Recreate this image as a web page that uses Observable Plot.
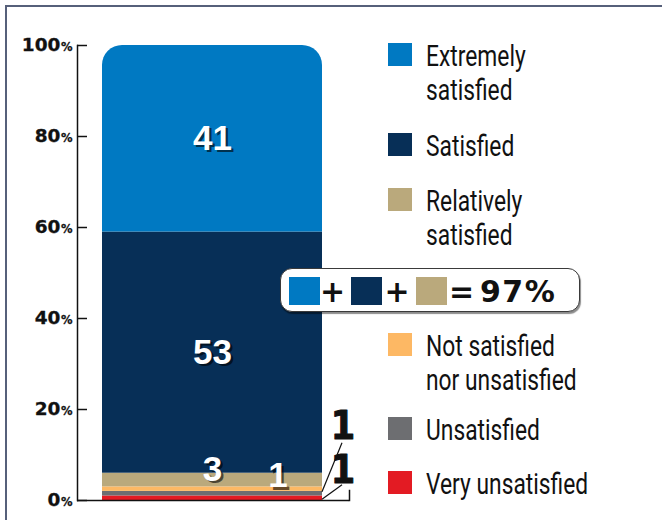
<!DOCTYPE html>
<html>
<head>
<meta charset="utf-8">
<script src="https://cdn.jsdelivr.net/npm/d3@7"></script>
<script src="https://cdn.jsdelivr.net/npm/@observablehq/plot@0.6"></script>
<style>
  body { margin: 0; background: #fff; }
  #wrap { position: relative; width: 662px; height: 520px; overflow: hidden; background: #fff; }
  #chart { position: absolute; left: 0; top: 0; }
  #border { position: absolute; left: 5px; top: 5px; right: -10px; bottom: -10px;
            border-top: 2px solid #56607a; border-left: 2px solid #56607a; pointer-events: none; }
  .lg { position: absolute; left: 388px; }
  .lg .sw { position: absolute; left: 0; top: 0; width: 24px; height: 23px; }
  .lg .tx { position: absolute; left: 38px; top: -4px; font-family: Roboto, "DejaVu Sans Condensed", sans-serif;
            font-size: 30px; line-height: 34px; color: #111; white-space: nowrap; transform: scaleX(0.76); transform-origin: 0 0; }
  #box { position: absolute; left: 280px; top: 268px; width: 300px; height: 44px; box-sizing: border-box;
         border: 1.5px solid #3a3a3a; border-radius: 12px; background: #fff; box-shadow: 1px 2px 1px rgba(0,0,0,0.45); }
  #box .sq { position: absolute; top: 7.5px; width: 31px; height: 28px; }
  #box .op { position: absolute; top: 8px; font-family: "DejaVu Sans", sans-serif; font-weight: bold; font-size: 30px;
             line-height: 30px; color: #111; white-space: nowrap; }
</style>
</head>
<body>
<div id="wrap"></div>
<script>
// ---------- data ----------
const categories = ["Very unsatisfied", "Unsatisfied", "Not satisfied nor unsatisfied",
                    "Relatively satisfied", "Satisfied", "Extremely satisfied"];
const values = [1, 1, 1, 3, 53, 41];
const colors = ["#E31B23", "#6D6E71", "#FDB864", "#BAA97C", "#072F57", "#0079C2"];
const legendLines = [["Very unsatisfied"], ["Unsatisfied"], ["Not satisfied", "nor unsatisfied"],
                     ["Relatively", "satisfied"], ["Satisfied"], ["Extremely", "satisfied"]];
const yTicks = [0, 20, 40, 60, 80, 100];
const summaryCategories = ["Extremely satisfied", "Satisfied", "Relatively satisfied"];
const summaryText = "97%";
const barKey = "Satisfaction";

// derived table
const ends = d3.cumsum(values);
const data = categories.map((c, i) => ({
  category: c, value: values[i], y1: ends[i] - values[i], y2: ends[i], mid: ends[i] - values[i] / 2
}));
const pick = (...names) => data.filter(d => names.includes(d.category));

// ---------- chart ----------
const labelFont = { fontFamily: "Liberation Sans, Arial, sans-serif", fontWeight: "bold" };
function shadowed(rows, opts) {
  return [
    Plot.text(rows, { ...opts, fill: "#000", fillOpacity: 0.6, dx: (opts.dx || 0) + 2.5, dy: (opts.dy || 0) + 2.5 }),
    Plot.text(rows, { ...opts, fill: "#fff" })
  ];
}
const inside = { x: () => barKey, y: "mid", text: d => String(d.value), ...labelFont, fontSize: 35 };
const calloutFont = { x: () => barKey, y: "mid", text: d => String(d.value),
  fontFamily: "DejaVu Sans Condensed, sans-serif", fontWeight: "bold", fontSize: 39, fill: "#111", dx: 130.5,
  stroke: "#111", strokeWidth: 1 };

const chart = Plot.plot({
  width: 662, height: 520,
  marginLeft: 77, marginRight: 313, marginTop: 45, marginBottom: 20,
  style: { background: "transparent", overflow: "visible" },
  x: { type: "band", domain: [barKey], range: [102, 322], padding: 0, axis: null },
  y: { domain: [0, 100], axis: null },
  color: { domain: categories, range: colors },
  marks: [
    Plot.barY(data, Plot.stackY({ x: () => barKey, y: "value", fill: "category" })),
    ...shadowed(pick("Extremely satisfied", "Satisfied"), inside),
    ...shadowed(pick("Relatively satisfied"), { ...inside, dy: -10.5 }),
    ...shadowed(pick("Not satisfied nor unsatisfied"), { ...inside, dx: 65.5, dy: -13 }),
    Plot.text(pick("Unsatisfied"), { ...calloutFont, dy: -67 }),
    Plot.text(pick("Very unsatisfied"), { ...calloutFont, dy: -28 }),
    Plot.ruleY(yTicks, { insetRight: 262, stroke: "#111", strokeWidth: 1.5 }),
    Plot.ruleY([0], { stroke: "#111", strokeWidth: 1.5 }),
    Plot.frame({ anchor: "left", stroke: "#111", strokeWidth: 1.5 }),
    Plot.frame({ anchor: "right", insetTop: 445, stroke: "#111", strokeWidth: 1.5 }),
    Plot.text(yTicks, { y: d => d, frameAnchor: "left", textAnchor: "end", dx: -5, text: d => d + "%",
                        fontSize: 18.5, fontWeight: "bold", fontFamily: "DejaVu Sans, sans-serif", fill: "#111",
                        stroke: "#111", strokeWidth: 0.3 })
  ]
});
chart.id = "chart";
document.getElementById("wrap").appendChild(chart);

// post-render touches using the chart's own scales
const svg = d3.select(chart);
const X = chart.scale("x"), Y = chart.scale("y");
const bx = X.apply(barKey), bw = X.bandwidth;
const yTop = Y.apply(100), yBot = Y.apply(0);
svg.append("defs").append("clipPath").attr("id", "barclip")
  .append("rect").attr("x", bx).attr("y", yTop).attr("width", bw).attr("height", yBot - yTop + 40).attr("rx", 20).attr("ry", 20);
svg.select('g[aria-label="bar"]').attr("clip-path", "url(#barclip)");

// small % signs on the y tick labels
svg.selectAll("text").each(function () {
  const t = this.textContent;
  if (/^\d+%$/.test(t) && t !== summaryText) {
    this.textContent = t.slice(0, -1);
    d3.select(this).append("tspan").attr("font-size", 11.5).attr("dx", 0.5).text("%");
  }
});

// callout leader lines
const leaders = [
  { category: "Unsatisfied", dy: -67, startDy: -1.5, endDy: 16.5 },
  { category: "Very unsatisfied", dy: -28, startDy: 1.5, endDy: 15 }
];
leaders.forEach(c => {
  const d = data.find(r => r.category === c.category);
  const ym = Y.apply(d.mid);
  svg.append("line")
    .attr("x1", bx + bw).attr("y1", ym + c.startDy)
    .attr("x2", bx + bw / 2 + 130).attr("y2", ym + c.dy + c.endDy)
    .attr("stroke", "#111").attr("stroke-width", 1.2);
});

// ---------- legend ----------
const wrap = document.getElementById("wrap");
const legendTops = { "Extremely satisfied": 43, "Satisfied": 133, "Relatively satisfied": 188,
                     "Not satisfied nor unsatisfied": 333, "Unsatisfied": 417, "Very unsatisfied": 471 };
categories.forEach((c, i) => {
  const item = document.createElement("div");
  item.className = "lg";
  item.style.top = legendTops[c] + "px";
  item.innerHTML = `<div class="sw" style="background:${colors[i]}"></div><div class="tx">${legendLines[i].join("<br>")}</div>`;
  wrap.appendChild(item);
});

// ---------- summary box ----------
const box = document.createElement("div");
box.id = "box";
const sqLefts = [7.5, 69.5, 134.5];
const plusCenters = [51.5, 116];
let html = "";
summaryCategories.forEach((c, i) => {
  html += `<div class="sq" style="left:${sqLefts[i]}px;background:${colors[categories.indexOf(c)]}"></div>`;
});
plusCenters.forEach(x => { html += `<div class="op" style="left:${x}px;transform:translateX(-50%)">+</div>`; });
html += `<div class="op" style="left:180.5px;transform:translateX(-50%)">=</div>`;
html += `<div class="op" style="left:199px;letter-spacing:1.5px">${summaryText}</div>`;
box.innerHTML = html;
wrap.appendChild(box);

const border = document.createElement("div");
border.id = "border";
wrap.appendChild(border);
</script>
</body>
</html>
